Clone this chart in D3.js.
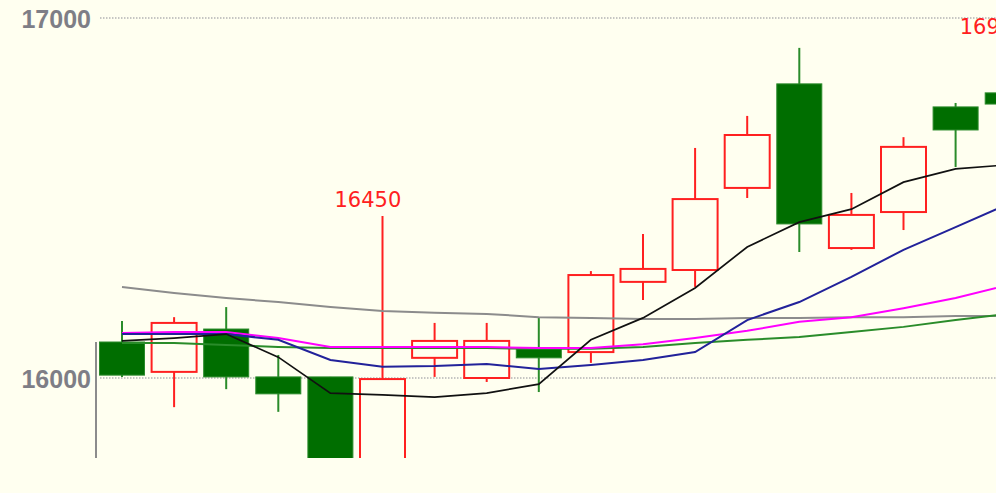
<!DOCTYPE html>
<html>
<head>
<meta charset="utf-8">
<script src="https://cdn.jsdelivr.net/npm/d3@7"></script>
<style>
  html, body { margin: 0; padding: 0; background: #fffff0; overflow: hidden; }
  svg { display: block; }
</style>
</head>
<body>
<div id="chart"></div>
<script>
// candle data
const opens  = [16100, 16017, 16136, 16003, 16003, 15760, 16056, 16000, 16081, 16072, 16267, 16300, 16528, 16817, 16361, 16461, 16753, 16792];
const highs  = [16158, 16169, 16197, 16064, 16003, 16450, 16153, 16153, 16167, 16297, 16400, 16639, 16728, 16917, 16514, 16669, 16764, 16930];
const lows   = [16003, 15919, 15969, 15906, 15700, 15700, 16003, 15989, 15961, 16042, 16217, 16253, 16500, 16350, 16356, 16411, 16586, 16740];
const closes = [16008, 16153, 16003, 15956, 15770, 15997, 16103, 16103, 16056, 16286, 16303, 16497, 16675, 16428, 16453, 16642, 16689, 16761];

// moving averages
const ma5  = [16103, 16111, 16122, 16058, 15958, 15953, 15947, 15958, 15983, 16106, 16167, 16250, 16364, 16433, 16469, 16544, 16581, 16592];
const ma10 = [16122, 16122, 16122, 16106, 16050, 16031, 16033, 16039, 16025, 16036, 16050, 16072, 16161, 16211, 16281, 16356, 16419, 16483];
const ma20 = [16125, 16128, 16128, 16111, 16086, 16086, 16086, 16086, 16083, 16083, 16094, 16111, 16131, 16156, 16169, 16194, 16222, 16258];
const ma30 = [16097, 16097, 16092, 16086, 16083, 16083, 16083, 16083, 16081, 16081, 16086, 16097, 16106, 16114, 16128, 16142, 16161, 16178];
const ma60 = [16253, 16236, 16222, 16211, 16197, 16186, 16181, 16178, 16169, 16167, 16164, 16164, 16167, 16167, 16169, 16169, 16172, 16172];

const yTicks = [16000, 17000];
// high marks shown as text
const markIdx = [5, 17];
const markText = ["16450", "16930"];

const width = 996, height = 493;
const bg = "#fffff0";

const svg = d3.select("#chart").append("svg")
    .attr("width", width)
    .attr("height", height);

svg.append("rect").attr("width", width).attr("height", height).attr("fill", bg);

const y = d3.scaleLinear().domain([16000, 17000]).range([378, 18]);
const x = d3.scaleLinear().domain([0, 17]).range([122, 1007.7]);
const bodyW = 45;

svg.append("clipPath").attr("id", "plot")
  .append("rect").attr("x", 97).attr("y", 0).attr("width", width - 97).attr("height", 458);

// dotted grid
svg.selectAll("line.grid")
    .data(yTicks)
    .join("line")
    .attr("class", "grid")
    .attr("x1", 100).attr("x2", width)
    .attr("y1", d => y(d)).attr("y2", d => y(d))
    .attr("stroke", "#b4b4b4")
    .attr("stroke-width", 1.5)
    .attr("stroke-dasharray", "1.5,1.5");

// y labels
const axis = svg.append("g")
    .attr("transform", "translate(94,0)")
    .call(d3.axisLeft(y).tickValues(yTicks).tickSize(0).tickFormat(d3.format("d")));
axis.select(".domain").remove();
axis.selectAll("text")
    .attr("dy", "0.36em")
    .attr("fill", "#7e7e86")
    .attr("font-family", "'Liberation Sans', Arial, sans-serif")
    .attr("font-weight", "bold")
    .attr("font-size", 25);

// partial axis stub
svg.append("line")
    .attr("x1", 96).attr("x2", 96)
    .attr("y1", 342).attr("y2", 458)
    .attr("stroke", "#8c8c8c")
    .attr("stroke-width", 2);

const plot = svg.append("g").attr("clip-path", "url(#plot)");

const candles = d3.range(opens.length).map(i => ({
    i, o: opens[i], h: highs[i], l: lows[i], c: closes[i], up: closes[i] >= opens[i]
}));

// wicks
plot.selectAll("line.wick")
    .data(candles)
    .join("line")
    .attr("class", "wick")
    .attr("x1", d => x(d.i)).attr("x2", d => x(d.i))
    .attr("y1", d => y(d.h)).attr("y2", d => y(d.l))
    .attr("stroke", d => d.up ? "#ff2020" : "#2a8c2a")
    .attr("stroke-width", 2);

// bodies
plot.selectAll("rect.body")
    .data(candles)
    .join("rect")
    .attr("class", "body")
    .attr("x", d => x(d.i) - bodyW / 2)
    .attr("width", bodyW)
    .attr("y", d => y(Math.max(d.o, d.c)))
    .attr("height", d => Math.max(1, Math.abs(y(d.o) - y(d.c))))
    .attr("fill", d => d.up ? bg : "#006e00")
    .attr("stroke", d => d.up ? "#ff2020" : "#2a8a2a")
    .attr("stroke-width", d => d.up ? 2 : 1);

// moving average lines
const line = d3.line().x((d, i) => x(i)).y(d => y(d));
const series = [
    { vals: ma60, color: "#8c8c8c", w: 2 },
    { vals: ma30, color: "#2a8c2a", w: 2 },
    { vals: ma20, color: "#ff00ff", w: 2 },
    { vals: ma10, color: "#22229a", w: 2 },
    { vals: ma5,  color: "#111111", w: 1.7 }
];
plot.selectAll("path.ma")
    .data(series)
    .join("path")
    .attr("class", "ma")
    .attr("d", d => line(d.vals))
    .attr("fill", "none")
    .attr("stroke", d => d.color)
    .attr("stroke-width", d => d.w);

// high labels (the last one runs off the right edge, as in the source)
svg.selectAll("text.mark")
    .data(markIdx)
    .join("text")
    .attr("class", "mark")
    .attr("x", d => x(d) - 48)
    .attr("y", d => y(highs[d]) - 9)
    .attr("fill", "#ff2020")
    .attr("font-family", "'DejaVu Sans', Verdana, sans-serif")
    .attr("font-size", 21)
    .text((d, i) => markText[i]);
</script>
</body>
</html>
